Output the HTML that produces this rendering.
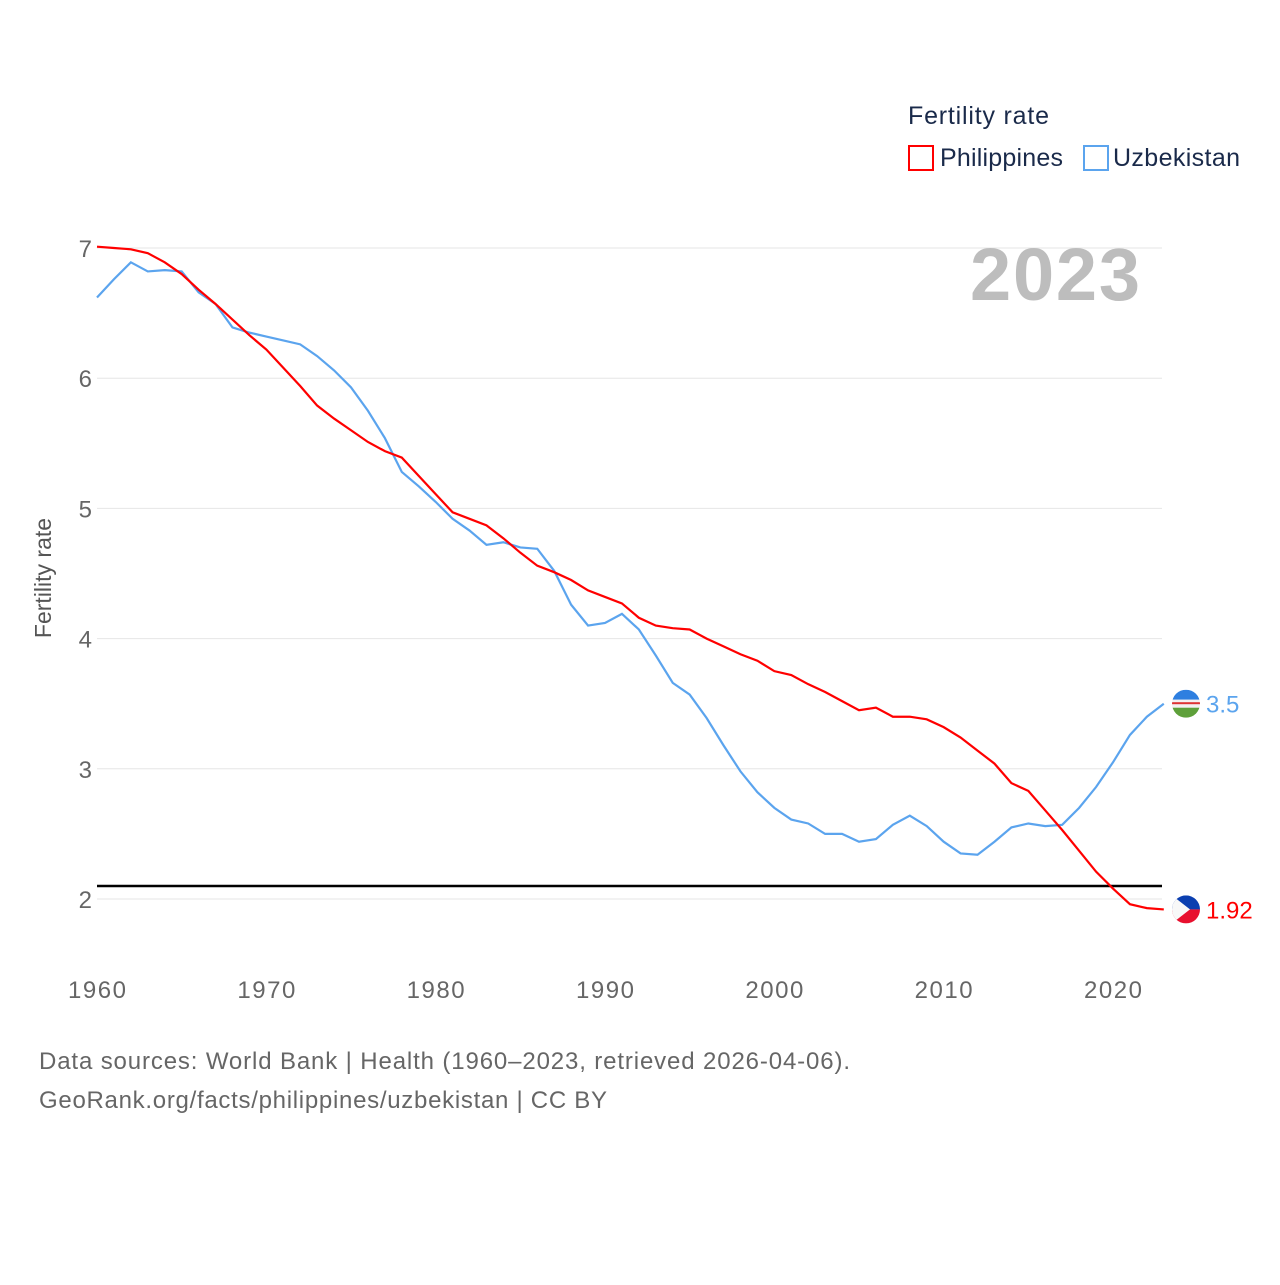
<!DOCTYPE html>
<html><head><meta charset="utf-8"><style>
body{margin:0;background:#fff;}
svg text{font-family:"Liberation Sans",sans-serif;}
</style></head><body>
<svg width="1280" height="1280" viewBox="0 0 1280 1280" xmlns="http://www.w3.org/2000/svg">
<defs>
<clipPath id="cU"><circle cx="1186" cy="703" r="14"/></clipPath>
<clipPath id="cP"><circle cx="1186" cy="909" r="14"/></clipPath>
</defs>
<g id="grid"></g><g id="lines"></g>
<text x="908" y="124" font-size="25" fill="#1a2a4a" textLength="141">Fertility rate</text>
<g><rect x="909" y="146" width="24" height="24" fill="none" stroke="#ff0000" stroke-width="2"/><text x="940" y="166" font-size="25" fill="#1a2a4a" textLength="123">Philippines</text></g>
<g><rect x="1084" y="146" width="24" height="24" fill="none" stroke="#5ba4ee" stroke-width="2"/><text x="1113" y="166" font-size="25" fill="#1a2a4a" textLength="127">Uzbekistan</text></g>
<text x="970" y="300" font-size="74" font-weight="bold" fill="#bdbdbd" textLength="170">2023</text>
<text transform="translate(51,578) rotate(-90)" font-size="23" fill="#555" text-anchor="middle">Fertility rate</text>
<text x="39" y="1069" font-size="24" fill="#666" textLength="811">Data sources: World Bank | Health (1960–2023, retrieved 2026-04-06).</text>
<text x="39" y="1108" font-size="24" fill="#666" textLength="568">GeoRank.org/facts/philippines/uzbekistan | CC BY</text>
</svg>
<script>
const years=[];for(let y=1960;y<=2023;y++)years.push(y);
const philippines=[7.01,7.0,6.99,6.96,6.89,6.8,6.68,6.57,6.45,6.33,6.22,6.08,5.94,5.79,5.69,5.6,5.51,5.44,5.39,5.25,5.11,4.97,4.92,4.87,4.77,4.66,4.56,4.51,4.45,4.37,4.32,4.27,4.16,4.1,4.08,4.07,4.0,3.94,3.88,3.83,3.75,3.72,3.65,3.59,3.52,3.45,3.47,3.4,3.4,3.38,3.32,3.24,3.14,3.04,2.89,2.83,2.68,2.53,2.37,2.21,2.08,1.96,1.93,1.92];
const uzbekistan=[6.62,6.76,6.89,6.82,6.83,6.82,6.66,6.57,6.39,6.35,6.32,6.29,6.26,6.17,6.06,5.93,5.75,5.54,5.28,5.17,5.05,4.92,4.83,4.72,4.74,4.7,4.69,4.52,4.26,4.1,4.12,4.19,4.07,3.87,3.66,3.57,3.39,3.18,2.98,2.82,2.7,2.61,2.58,2.5,2.5,2.44,2.46,2.57,2.64,2.56,2.44,2.35,2.34,2.44,2.55,2.58,2.56,2.57,2.7,2.86,3.05,3.26,3.4,3.5];
const yTicks=[2,3,4,5,6,7];
const xTicks=[1960,1970,1980,1990,2000,2010,2020];
const refLine=2.1;
const NS="http://www.w3.org/2000/svg";
const X=y=>97+(y-1960)*(1016/60);
const Y=v=>899-(v-2)*130.2;
function el(t,a,p){const e=document.createElementNS(NS,t);for(const k in a)e.setAttribute(k,a[k]);p.appendChild(e);return e;}
const grid=document.getElementById('grid'),lines=document.getElementById('lines');
yTicks.forEach(v=>{
 const l=el('line',{x1:97,x2:1162,y1:Y(v),y2:Y(v),stroke:'#e6e6e6','stroke-width':1},grid);
 
 
 const t=el('text',{x:92,y:Y(v)+9,'font-size':24,fill:'#666','text-anchor':'end'},grid);t.textContent=v;
 
 
});
xTicks.forEach(v=>{
 const t=el('text',{x:X(v),y:998,'font-size':24,fill:'#666','text-anchor':'middle',textLength:58},grid);t.textContent=v;
 
 
});
const rl=el('line',{x1:97,x2:1162,y1:Y(refLine),y2:Y(refLine),stroke:'#000','stroke-width':2.5},lines);


function series(d,c,name,flag){
 const p=el('polyline',{points:d.map((v,i)=>X(years[i])+','+Y(v)).join(' '),fill:'none',stroke:c,'stroke-width':2.2},lines);
 
 
 const last=d[d.length-1],cy=Y(last);
 const g=el('g',{},lines);
 
 
 g.setAttribute('transform','translate(0,'+(cy-(name==='uzbekistan'?703:909))+')');
 if(name==='uzbekistan'){
  el('rect',{x:1172,y:689,width:28,height:10,fill:'#2e7fe0','clip-path':'url(#cU)'},g);
  el('rect',{x:1172,y:699,width:28,height:8,fill:'#f4f0f0','clip-path':'url(#cU)'},g);
  el('rect',{x:1172,y:701.5,width:28,height:2,fill:'#d33','clip-path':'url(#cU)'},g);
  el('rect',{x:1172,y:707,width:28,height:10,fill:'#5ea03a','clip-path':'url(#cU)'},g);
 } else {
  el('rect',{x:1172,y:895,width:28,height:14,fill:'#0b3fb0','clip-path':'url(#cP)'},g);
  el('rect',{x:1172,y:909,width:28,height:14,fill:'#e8102e','clip-path':'url(#cP)'},g);
  el('polygon',{points:'1172,895 1190,909 1172,923',fill:'#f8f8f8','clip-path':'url(#cP)'},g);
 }
 const t=el('text',{x:1206,y:cy+9,'font-size':24,fill:c},lines);t.textContent=last;
 
 
}
series(uzbekistan,'#5ba4ee','uzbekistan');
series(philippines,'#ff0000','philippines');
</script>
</body></html>
